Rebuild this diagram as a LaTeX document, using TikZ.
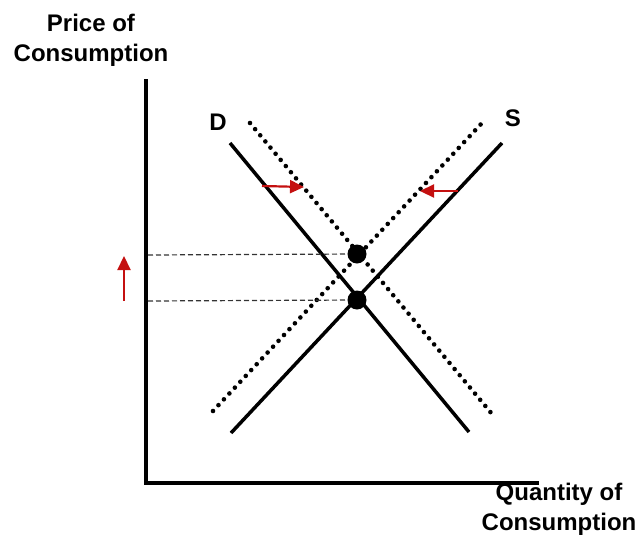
\documentclass[tikz,border=0pt]{standalone}
\usepackage{fontspec}
\setmainfont{Liberation Sans}
\usetikzlibrary{arrows.meta}
\definecolor{arrred}{RGB}{196,16,16}
\begin{document}
\begin{tikzpicture}[x=1pt,y=-1pt,
  axis/.style={line width=3.5pt},
  curve/.style={line width=3.5pt},
  dotcurve/.style={line width=4.6pt,dash pattern=on 0pt off 8pt,line cap=round},
  guide/.style={line width=1.2pt,dash pattern=on 5pt off 3pt,black!80},
  shiftarrow/.style={arrred,line width=2.2pt,-{Triangle[length=14pt,width=13pt]}},
  lbl/.style={font=\fontsize{24}{30}\selectfont\bfseries,inner sep=0pt,align=center},
  eq/.style={circle,fill=black,minimum size=19pt,inner sep=0pt}]
\useasboundingbox (0,0) rectangle (641,536);
% axes
\coordinate (top) at (146,79);
\coordinate (orig) at (146,483);
\coordinate (right) at (539,483);
\draw[axis] (top) -- (orig) -- (right);
% labels
\node[lbl] (ylab) at (91,40) {Price of\\Consumption};
\node[lbl] (xlab) at (559,509) {Quantity of\\Consumption};
\node[lbl] (dlab) at (218,122) {D};
\node[lbl] (slab) at (513,118) {S};
% curves
\coordinate (d1) at (230,143);
\coordinate (d2) at (469,432);
\coordinate (s1) at (231,433);
\coordinate (s2) at (502,143);
\coordinate (dd1) at (250,123);
\coordinate (dd2) at (492,414);
\coordinate (ds1) at (213,411);
\coordinate (ds2) at (482,123);
\draw[curve] (d1) -- (d2);
\draw[curve] (s1) -- (s2);
\draw[dotcurve] (dd1) -- (dd2);
\draw[dotcurve] (ds1) -- (ds2);
% equilibria
\coordinate (e1c) at (357,254);
\coordinate (e0c) at (357,300);
\coordinate (g1) at (148,255);
\coordinate (g0) at (148,301);
\draw[guide] (g1) -- (e1c);
\draw[guide] (g0) -- (e0c);
\node[eq] (e1) at (e1c) {};
\node[eq] (e0) at (e0c) {};
% red arrows
\coordinate (a1) at (262,186);
\coordinate (a1t) at (304,187);
\coordinate (a2) at (458,191);
\coordinate (a2t) at (420,191);
\coordinate (a3) at (124,301);
\coordinate (a3t) at (124,256);
\draw[shiftarrow] (a1) -- (a1t);
\draw[shiftarrow] (a2) -- (a2t);
\draw[shiftarrow] (a3) -- (a3t);
\end{tikzpicture}
\end{document}
